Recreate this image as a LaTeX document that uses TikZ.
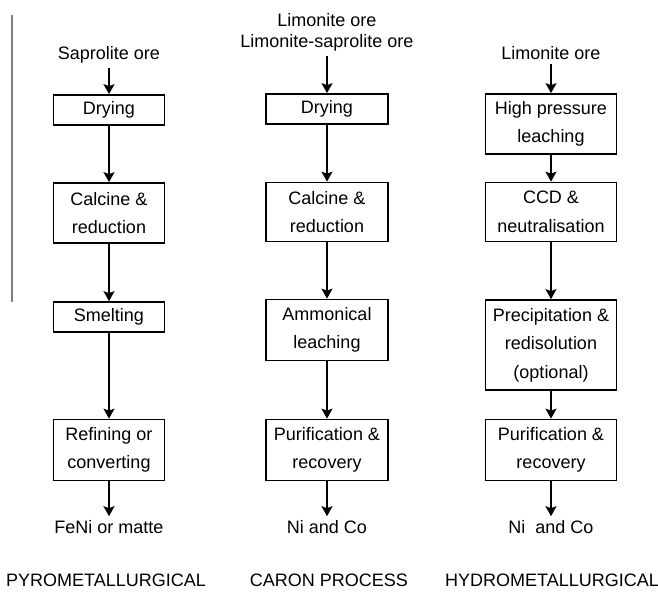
\documentclass[tikz,border=0pt]{standalone}
\usepackage{fontspec}
\setmainfont{Liberation Sans}
\usepackage{tikz}
\usetikzlibrary{arrows.meta}

\begin{document}
\begin{tikzpicture}[
  x=1pt,y=-1pt,
  font=\fontsize{18}{28.5}\selectfont,
  box/.style={draw=black,line width=1.7pt,fill=white,minimum height=#1,inner sep=0pt,align=center},
  box/.default=30pt,
  lbl/.style={inner sep=4pt,align=center},
  arr/.style={-{Stealth[length=10pt,width=11pt,inset=2pt]},line width=1.6pt,draw=black}
]
\useasboundingbox (0,0) rectangle (658,592);
\draw[gray,line width=1.2pt] (12,15) -- (12,302);
% pyrometallurgical
\node[lbl] (sap) at (109,55) {Saprolite ore};
\node[box,minimum width=111pt] (dry1) at (109,110) {Drying};
\node[box=60pt,minimum width=111pt] (cal1) at (109,213) {Calcine \&\\reduction};
\node[box,minimum width=111pt] (sme1) at (109,317) {Smelting};
\node[box=61pt,minimum width=111pt] (ref1) at (109,450) {Refining or\\converting};
\node[lbl] (feni) at (109,527) {FeNi or matte};
\node (pyro) at (106,580) {PYROMETALLURGICAL};
% caron process
\node[lbl] (lim2a) at (327,20) {Limonite ore};
\node[lbl] (lim2b) at (327,43) {Limonite-saprolite ore};
\node[box,minimum width=122pt] (dry2) at (327,109) {Drying};
\node[box=59pt,minimum width=122pt] (cal2) at (327,212) {Calcine \&\\reduction};
\node[box=61pt,minimum width=122pt] (amm2) at (327,330) {Ammonical\\leaching};
\node[box=61pt,minimum width=122pt] (pur2) at (327,450) {Purification \&\\recovery};
\node[lbl] (ni2) at (327,527) {Ni and Co};
\node (caron) at (329,580) {CARON PROCESS};
% hydrometallurgical
\node[lbl] (lim3) at (551,53) {Limonite ore};
\node[box=60pt,minimum width=131pt] (hpl3) at (551,124) {High pressure\\leaching};
\node[box=59pt,minimum width=131pt] (ccd3) at (551,212) {CCD \&\\neutralisation};
\node[box=90pt,minimum width=131pt] (pre3) at (551,345) {Precipitation \&\\redisolution\\(optional)};
\node[box=61pt,minimum width=131pt] (pur3) at (551,450) {Purification \&\\recovery};
\node[lbl] (ni3) at (551,527) {Ni\ \ and Co};
\node (hydro) at (552,580) {HYDROMETALLURGICAL};
\draw[arr] (sap)--(dry1); \draw[arr] (dry1)--(cal1); \draw[arr] (cal1)--(sme1);
\draw[arr] (sme1)--(ref1); \draw[arr] (ref1)--(feni);
\draw[arr] (lim2b)--(dry2); \draw[arr] (dry2)--(cal2); \draw[arr] (cal2)--(amm2);
\draw[arr] (amm2)--(pur2); \draw[arr] (pur2)--(ni2);
\draw[arr] (lim3)--(hpl3); \draw[arr] (hpl3)--(ccd3); \draw[arr] (ccd3)--(pre3);
\draw[arr] (pre3)--(pur3); \draw[arr] (pur3)--(ni3);
\end{tikzpicture}
\end{document}
